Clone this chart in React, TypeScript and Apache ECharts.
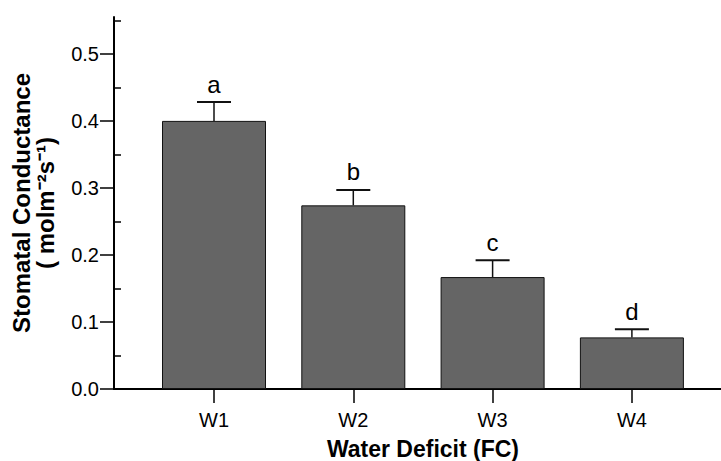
import React, { useEffect, useRef } from "react";
import * as echarts from "echarts";

const categories = ["W1", "W2", "W3", "W4"];
const means = [0.4, 0.274, 0.167, 0.077];
const sems = [0.028, 0.023, 0.025, 0.012];
const letters = ["a", "b", "c", "d"];
const majorTicks = [0, 0.1, 0.2, 0.3, 0.4, 0.5];
const minorTicks = [0.05, 0.15, 0.25, 0.35, 0.45, 0.55];
const yMax = 0.555;

const FONT = "'Liberation Sans', Arial, Helvetica, sans-serif";

export default function App() {
  const ref = useRef<HTMLDivElement>(null);
  useEffect(() => {
    if (!ref.current) return;
    const chart = echarts.init(ref.current, null, { renderer: "svg" });
    const data = categories.map((_, i) => [i, means[i], means[i] + sems[i]]);
    chart.setOption({
      animation: false,
      backgroundColor: "#ffffff",
      grid: [
        { left: 114, right: 0, top: 17, height: 372, outerBoundsMode: "none", containLabel: false },
        { left: 144.35, width: 557.2, top: 17, height: 372, outerBoundsMode: "none", containLabel: false },
      ],
      xAxis: [
        {
          gridIndex: 0,
          type: "value",
          min: 0,
          max: 1,
          axisLine: { show: true, lineStyle: { color: "#000", width: 2 } },
          axisTick: { show: false },
          axisLabel: { show: false },
          splitLine: { show: false },
        },
        {
          gridIndex: 0,
          type: "value",
          position: "top",
          min: 0,
          max: 1,
          axisLine: { show: true, lineStyle: { color: "#000", width: 2 } },
          axisTick: { show: false },
          axisLabel: { show: false },
          splitLine: { show: false },
        },
        {
          gridIndex: 1,
          type: "category",
          data: categories,
          boundaryGap: true,
          axisLine: { show: false },
          axisTick: {
            show: true,
            alignWithLabel: true,
            length: 14,
            lineStyle: { color: "#000", width: 1.5 },
          },
          axisLabel: { fontSize: 20, color: "#000", margin: 21, fontFamily: FONT },
          name: "Water Deficit (FC)",
          nameLocation: "middle",
          nameGap: 48,
          nameTextStyle: { fontSize: 23, fontWeight: "bold", color: "#000", fontFamily: FONT },
          splitLine: { show: false },
        },
      ],
      yAxis: [
        {
          gridIndex: 0,
          type: "value",
          min: 0,
          max: yMax,
          axisLine: { show: true, lineStyle: { color: "#000", width: 2 } },
          axisTick: {
            show: true,
            length: 14,
            customValues: majorTicks,
            lineStyle: { color: "#000", width: 1.5 },
          },
          axisLabel: {
            customValues: majorTicks,
            formatter: (v: number) => v.toFixed(1),
            fontSize: 20,
            color: "#000",
            margin: 15,
            fontFamily: FONT,
          },
          splitLine: { show: false },
          name: "Stomatal Conductance\n( molm\u207B\u00B2s\u207B\u00B9)",
          nameLocation: "middle",
          nameRotate: 90,
          nameGap: 57,
          nameTextStyle: {
            fontSize: 24,
            fontWeight: "bold",
            color: "#000",
            lineHeight: 24,
            fontFamily: FONT,
            align: "center",
          },
        },
        {
          gridIndex: 0,
          type: "value",
          min: 0,
          max: yMax,
          axisLine: { show: false },
          axisTick: {
            show: true,
            length: 7,
            customValues: minorTicks,
            lineStyle: { color: "#000", width: 1.5 },
          },
          axisLabel: { show: false },
          splitLine: { show: false },
        },
        {
          gridIndex: 1,
          type: "value",
          min: 0,
          max: yMax,
          show: false,
          splitLine: { show: false },
        },
      ],
      series: [
        {
          type: "bar",
          xAxisIndex: 2,
          yAxisIndex: 2,
          data: means,
          barWidth: 104,
          itemStyle: { color: "#656565", borderColor: "#111", borderWidth: 1 },
        },
        {
          type: "custom",
          xAxisIndex: 2,
          yAxisIndex: 2,
          data,
          renderItem: (params: any, api: any) => {
            const base = api.coord([api.value(0), api.value(1)]);
            const top = api.coord([api.value(0), api.value(2)]);
            const x = base[0];
            return {
              type: "group",
              children: [
                {
                  type: "line",
                  shape: { x1: x, y1: base[1], x2: x, y2: top[1] },
                  style: { stroke: "#111", lineWidth: 1.5 },
                },
                {
                  type: "line",
                  shape: { x1: x - 17, y1: top[1], x2: x + 17, y2: top[1] },
                  style: { stroke: "#111", lineWidth: 2 },
                },
                {
                  type: "text",
                  x: x,
                  y: top[1] - 6,
                  style: {
                    text: letters[params.dataIndex],
                    fill: "#000",
                    fontSize: 24,
                    fontFamily: FONT,
                    align: "center",
                    verticalAlign: "bottom",
                  },
                },
              ],
            };
          },
        },
      ],
    });
    return () => chart.dispose();
  }, []);
  return (
    <div
      ref={ref}
      style={{ position: "fixed", left: 0, top: 0, width: 721, height: 461 }}
    />
  );
}
